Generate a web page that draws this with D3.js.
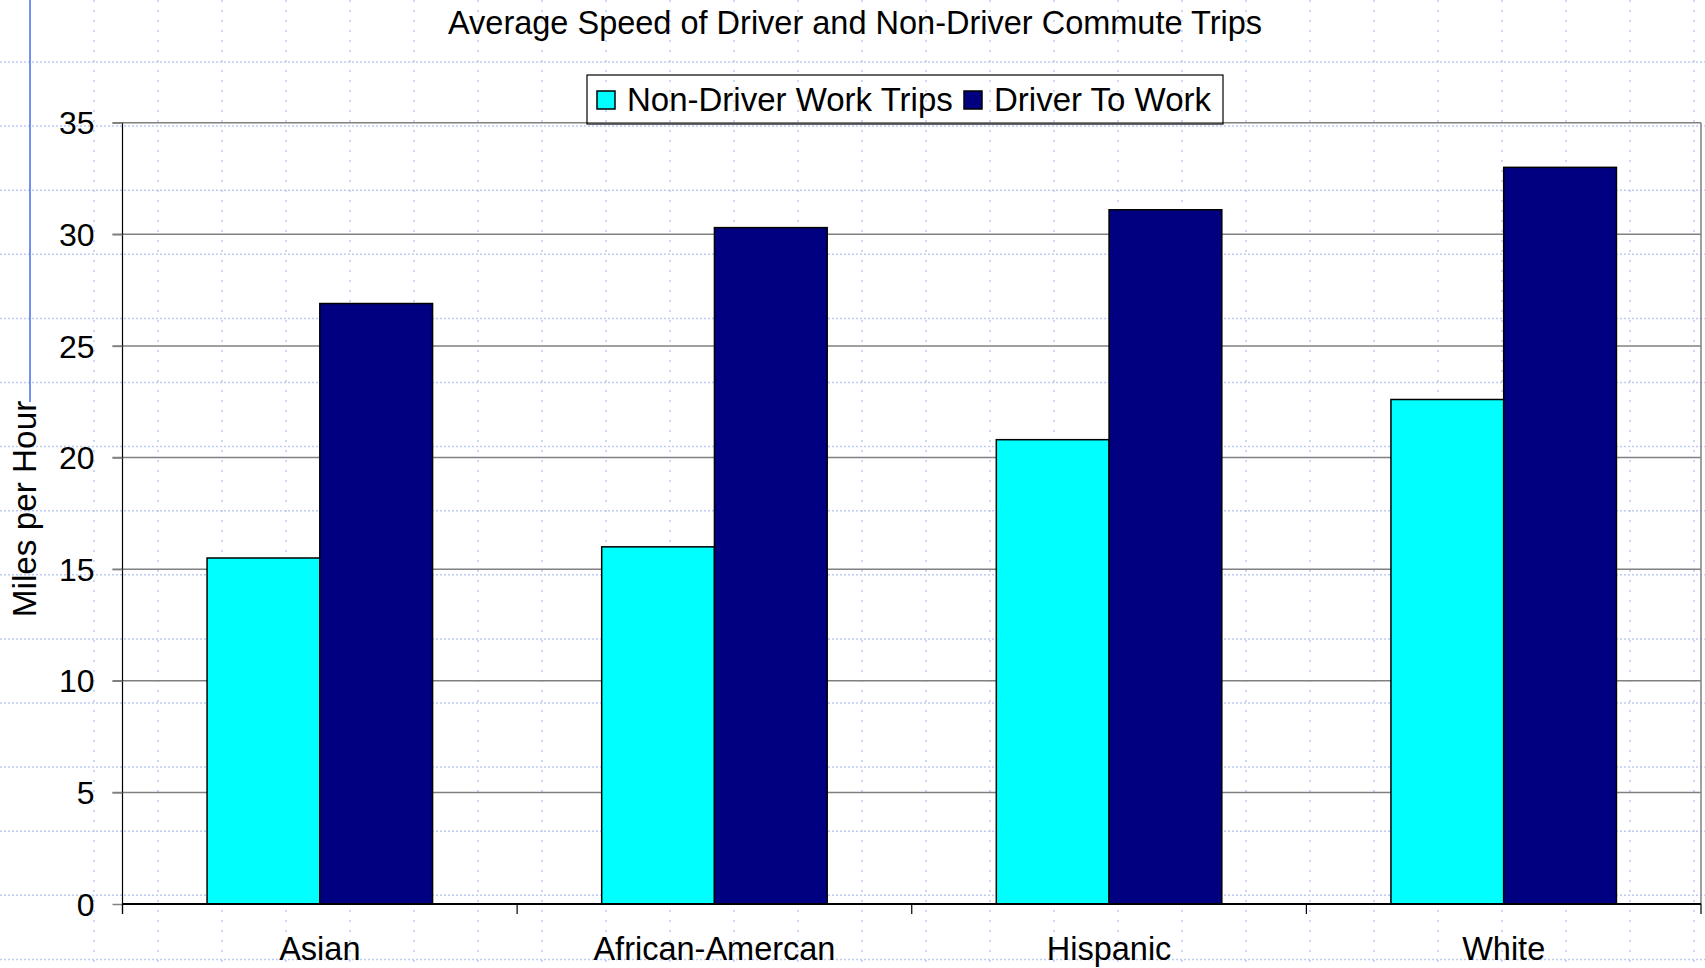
<!DOCTYPE html>
<html>
<head>
<meta charset="utf-8">
<script src="https://cdn.jsdelivr.net/npm/d3@7"></script>
<style>
  html, body { margin: 0; padding: 0; background: #ffffff; }
  svg { display: block; }
  text { font-family: "Liberation Sans", Arial, sans-serif; fill: #000; }
</style>
</head>
<body>
<svg id="chart" width="1705" height="968"></svg>
<script>
const categories = ["Asian", "African-Amercan", "Hispanic", "White"];
const seriesNames = ["Non-Driver Work Trips", "Driver To Work"];
const nonDriver = [15.5, 16.0, 20.8, 22.6];
const driver = [26.9, 30.3, 31.1, 33.0];
const yTicks = [0, 5, 10, 15, 20, 25, 30, 35];
const seriesColors = ["#00FFFF", "#000080"];
const title = "Average Speed of Driver and Non-Driver Commute Trips";
const yLabel = "Miles per Hour";

const W = 1705, H = 968;
const svg = d3.select("#chart");

// background dotted grid
const bg = svg.append("g");
for (let x = 94; x < W; x += 64) {
  bg.append("line").attr("x1", x).attr("x2", x).attr("y1", 0).attr("y2", H)
    .attr("stroke", "#bccbf5").attr("stroke-width", 1.5).attr("stroke-dasharray", "2,8");
}
for (let y = 62; y < H; y += 64.1) {
  bg.append("line").attr("x1", 0).attr("x2", W).attr("y1", y).attr("y2", y)
    .attr("stroke", "#bccbf5").attr("stroke-width", 1.5).attr("stroke-dasharray", "2,2");
}
bg.append("line").attr("x1", 30).attr("x2", 30).attr("y1", 0).attr("y2", 402)
  .attr("stroke", "#7391f2").attr("stroke-width", 2);

const plot = {left: 122.5, right: 1701, top: 122.7, bottom: 904};

const x0 = d3.scaleBand().domain(categories).range([plot.left, plot.right]).padding(0);
const x1 = d3.scaleBand().domain(seriesNames).range([0, x0.bandwidth()])
  .paddingInner(0).paddingOuter(0.75);
const y = d3.scaleLinear().domain([0, 35]).range([plot.bottom, plot.top]);

// gridlines
svg.append("g").selectAll("line").data(yTicks.filter(d => d > 0)).join("line")
  .attr("x1", plot.left - 10).attr("x2", plot.right)
  .attr("y1", d => y(d)).attr("y2", d => y(d))
  .attr("stroke", "#808080").attr("stroke-width", 1.5);

// plot right border
svg.append("line").attr("x1", plot.right).attr("x2", plot.right)
  .attr("y1", plot.top).attr("y2", plot.bottom)
  .attr("stroke", "#808080").attr("stroke-width", 1.5);

// bars
const data = categories.map((c, i) => ({cat: c, vals: [nonDriver[i], driver[i]]}));
const groups = svg.append("g").selectAll("g").data(data).join("g")
  .attr("transform", d => `translate(${x0(d.cat)},0)`);
groups.selectAll("rect").data(d => d.vals.map((v, j) => ({s: seriesNames[j], v, j}))).join("rect")
  .attr("x", d => x1(d.s)).attr("width", x1.bandwidth())
  .attr("y", d => y(d.v)).attr("height", d => y(0) - y(d.v))
  .attr("fill", d => seriesColors[d.j]).attr("stroke", "#000").attr("stroke-width", 1.5);

// y axis
const yAxis = d3.axisLeft(y).tickValues(yTicks).tickSize(10).tickPadding(18);
const yg = svg.append("g").attr("transform", `translate(${plot.left},0)`).call(yAxis);
yg.select(".domain").attr("stroke", "#000").attr("stroke-width", 1.2)
  .attr("d", `M0,${plot.top}V${plot.bottom + 10}`);
yg.selectAll(".tick line").attr("stroke", "#808080").attr("stroke-width", 1.5);
yg.selectAll(".tick text").attr("font-size", 32).attr("font-family", "Liberation Sans, Arial, sans-serif")
  .attr("fill", "#000").attr("dy", "0.35em");

// x axis
const xg = svg.append("g").attr("transform", `translate(0,${plot.bottom})`);
xg.append("line").attr("x1", plot.left).attr("x2", plot.right).attr("y1", 0).attr("y2", 0)
  .attr("stroke", "#000").attr("stroke-width", 2);
const bounds = categories.map(c => x0(c)).concat([x0(categories[categories.length - 1]) + x0.bandwidth()]);
xg.selectAll("line.tk").data(bounds).join("line").attr("class", "tk")
  .attr("x1", d => d).attr("x2", d => d).attr("y1", 0).attr("y2", 10)
  .attr("stroke", "#000").attr("stroke-width", 1.2);
xg.selectAll("text").data(categories).join("text")
  .attr("x", d => x0(d) + x0.bandwidth() / 2).attr("y", 55.5)
  .attr("text-anchor", "middle").attr("font-size", 32.5).text(d => d);

// title
svg.append("text").attr("x", 855).attr("y", 33.5).attr("text-anchor", "middle")
  .attr("font-size", 32.5).text(title);

// y label
svg.append("text").attr("transform", "translate(36,509) rotate(-90)")
  .attr("text-anchor", "middle").attr("font-size", 33.3).text(yLabel);

// legend
const lg = svg.append("g");
lg.append("rect").attr("x", 587).attr("y", 75).attr("width", 636).attr("height", 49)
  .attr("fill", "none").attr("stroke", "#000").attr("stroke-width", 1.2);
const legendX = [597, 964];
seriesNames.forEach((s, i) => {
  lg.append("rect").attr("x", legendX[i]).attr("y", 91).attr("width", 18).attr("height", 18)
    .attr("fill", seriesColors[i]).attr("stroke", "#000").attr("stroke-width", 1.5);
  lg.append("text").attr("x", legendX[i] + 30).attr("y", 111).attr("font-size", 33).text(s);
});
</script>
</body>
</html>
